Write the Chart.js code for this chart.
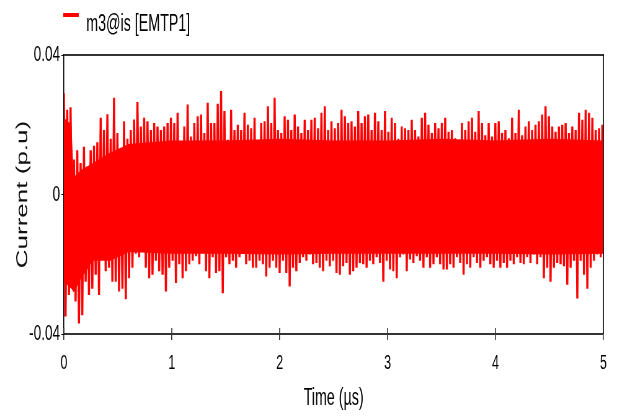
<!DOCTYPE html>
<html>
<head>
<meta charset="utf-8">
<title>m3@is current</title>
<script src="https://cdn.jsdelivr.net/npm/chart.js"></script>
<style>
  html, body { margin: 0; padding: 0; overflow: hidden; background: #fff; }
  .wrap { width: 617px; height: 416px; overflow: hidden; }
  /* the original plot is horizontally squeezed, so draw wide and squeeze */
  #chart { transform: scaleX(0.6201); transform-origin: 0 0; }
</style>
</head>
<body>
<div class="wrap"><canvas id="chart" width="995" height="416"></canvas></div>
<script>
// spacing between peak readings (µs)
const sampleStep = 0.031;

// positive peaks (p.u.)
const peakHi = [
  0.029, 0.0243, 0.025, 0.010, 0.0127, 0.009, 0.0137, 0.008, 0.0127, 0.014, 0.015, 0.022, 0.0185, 0.023, 0.016, 0.0277,
  0.0176, 0.011, 0.021, 0.016, 0.0185, 0.0215, 0.0265, 0.0195, 0.022, 0.021, 0.0185, 0.0205, 0.0195, 0.0185, 0.0195, 0.0205,
  0.022, 0.0205, 0.0234, 0.0152, 0.0195, 0.0258, 0.0166, 0.0205, 0.0224, 0.0229, 0.0176, 0.0263, 0.0205, 0.0205, 0.026, 0.0297,
  0.0239, 0.0157, 0.0243, 0.0185, 0.020, 0.0185, 0.0234, 0.020, 0.019, 0.022, 0.0147, 0.0205, 0.021, 0.0253, 0.0205, 0.0277,
  0.0185, 0.0176, 0.0224, 0.0214, 0.0185, 0.0229, 0.0195, 0.0176, 0.0214, 0.0185, 0.0214, 0.022, 0.019, 0.0234, 0.0253, 0.0185,
  0.021, 0.019, 0.0205, 0.0243, 0.0224, 0.0205, 0.021, 0.0195, 0.0239, 0.0205, 0.0224, 0.0229, 0.0185, 0.0234, 0.021, 0.0185,
  0.0239, 0.018, 0.022, 0.0205, 0.016, 0.0195, 0.019, 0.0185, 0.0214, 0.0185, 0.0166, 0.022, 0.0234, 0.020, 0.0176, 0.0205,
  0.019, 0.0205, 0.022, 0.018, 0.0185, 0.0161, 0.015, 0.0205, 0.0185, 0.021, 0.022, 0.018, 0.0239, 0.0205, 0.017, 0.0205,
  0.0166, 0.0205, 0.021, 0.0176, 0.0185, 0.0161, 0.022, 0.0176, 0.0243, 0.017, 0.0195, 0.021, 0.0185, 0.020, 0.021, 0.0229,
  0.0253, 0.0224, 0.0195, 0.018, 0.0195, 0.020, 0.0205, 0.0176, 0.0195, 0.0185, 0.0234, 0.0214, 0.0243, 0.0234, 0.022, 0.0185,
  0.019, 0.020
];

// negative peaks (p.u.)
const peakLo = [
  -0.035, -0.0288, -0.024, -0.0307, -0.037, -0.0346, -0.025, -0.0288, -0.027, -0.023, -0.0288, -0.018, -0.022, -0.021, -0.025, -0.025,
  -0.0278, -0.027, -0.030, -0.024, -0.021, -0.017, -0.018, -0.0153, -0.021, -0.024, -0.023, -0.019, -0.022, -0.023, -0.0278, -0.021,
  -0.019, -0.0254, -0.020, -0.024, -0.022, -0.020, -0.019, -0.0177, -0.020, -0.0153, -0.022, -0.024, -0.018, -0.0225, -0.022, -0.0283,
  -0.018, -0.020, -0.019, -0.021, -0.018, -0.0162, -0.020, -0.019, -0.021, -0.021, -0.019, -0.020, -0.0235, -0.021, -0.019, -0.021,
  -0.0225, -0.019, -0.0225, -0.0264, -0.021, -0.022, -0.0196, -0.018, -0.019, -0.0172, -0.020, -0.0196, -0.021, -0.022, -0.019, -0.0206,
  -0.019, -0.0225, -0.023, -0.0206, -0.0196, -0.023, -0.022, -0.021, -0.0196, -0.020, -0.021, -0.019, -0.020, -0.018, -0.0196, -0.025,
  -0.019, -0.0215, -0.022, -0.024, -0.018, -0.0172, -0.022, -0.0186, -0.0196, -0.0177, -0.019, -0.021, -0.018, -0.021, -0.020, -0.018,
  -0.020, -0.0215, -0.0215, -0.020, -0.021, -0.018, -0.0196, -0.023, -0.020, -0.021, -0.018, -0.0196, -0.021, -0.019, -0.018, -0.020,
  -0.021, -0.019, -0.021, -0.0196, -0.021, -0.019, -0.020, -0.018, -0.0196, -0.020, -0.018, -0.0196, -0.0172, -0.020, -0.018, -0.024,
  -0.021, -0.025, -0.021, -0.0196, -0.020, -0.0206, -0.0259, -0.021, -0.019, -0.0298, -0.019, -0.023, -0.027, -0.021, -0.019, -0.0172,
  -0.018, -0.019
];

// solid core of the band (µs / p.u.)
const bodyTime = [0, 0.07, 0.09, 0.16, 0.27, 0.43, 0.6, 1, 1.5, 2, 2.5, 3, 3.5, 4, 4.5, 5];
const bodyTop = [0.022, 0.020, 0.005, 0.007, 0.009, 0.012, 0.0145, 0.0155, 0.0155, 0.016, 0.0155, 0.0155, 0.016, 0.0155, 0.016, 0.0155];
const bodyBot = [-0.025, -0.027, -0.028, -0.024, -0.019, -0.019, -0.0165, -0.017, -0.017, -0.0172, -0.017, -0.017, -0.017, -0.017, -0.0172, -0.017];

const xTicks = [0, 1, 2, 3, 4, 5];
const yTicks = [-0.04, 0, 0.04];
const seriesName = 'm3@is [EMTP1]';

const FONT = "'Liberation Sans', Arial, sans-serif";
const RED = '#ff0000';

// each sample: positive peak then negative peak half a step later
const signal = [];
peakHi.forEach((v, i) => {
  signal.push({ x: i * sampleStep, y: v });
  signal.push({ x: i * sampleStep + sampleStep / 2, y: peakLo[i] });
});
const coreTop = bodyTime.map((t, i) => ({ x: t, y: bodyTop[i] }));
const coreBot = bodyTime.map((t, i) => ({ x: t, y: bodyBot[i] }));

// top/right frame, inner tick stubs and the legend
const framePlugin = {
  id: 'frame',
  afterDraw(chart) {
    const { ctx, chartArea: a, scales } = chart;
    ctx.save();
    ctx.strokeStyle = '#333';
    ctx.lineWidth = 2;
    ctx.beginPath();
    ctx.moveTo(a.left, a.top);
    ctx.lineTo(a.right + 1, a.top);
    ctx.stroke();
    ctx.strokeStyle = '#000';
    ctx.lineWidth = 1.6;
    ctx.beginPath();
    ctx.moveTo(a.right, a.top);
    ctx.lineTo(a.right, a.bottom);
    ctx.stroke();
    ctx.strokeStyle = '#333';
    xTicks.forEach(v => {
      const px = scales.x.getPixelForValue(v);
      ctx.beginPath();
      ctx.moveTo(px, a.bottom - 6);
      ctx.lineTo(px, a.bottom);
      ctx.stroke();
    });
    // legend
    ctx.fillStyle = RED;
    ctx.fillRect(102, 13, 25, 4);
    ctx.fillStyle = '#000';
    ctx.font = '23px ' + FONT;
    ctx.textBaseline = 'alphabetic';
    ctx.textAlign = 'left';
    ctx.fillText(chart.data.datasets[0].label, 139, 31);
    ctx.restore();
  }
};

new Chart(document.getElementById('chart'), {
  type: 'line',
  data: {
    datasets: [
      { label: seriesName, data: signal, borderColor: RED, borderWidth: 3.4, pointRadius: 0, tension: 0, fill: false },
      { label: 'core', data: coreTop, borderWidth: 0, borderColor: RED, backgroundColor: RED, pointRadius: 0, fill: '+1' },
      { label: 'core-low', data: coreBot, borderWidth: 0, borderColor: RED, pointRadius: 0, fill: false }
    ]
  },
  options: {
    responsive: false,
    animation: false,
    devicePixelRatio: 1,
    layout: { padding: { top: 55, right: 22, bottom: 0, left: 0 } },
    plugins: { legend: { display: false }, tooltip: { enabled: false } },
    scales: {
      x: {
        type: 'linear', min: 0, max: 5,
        afterBuildTicks: s => { s.ticks = xTicks.map(v => ({ value: v })); },
        afterFit: s => { s.height = 82; },
        border: { color: '#333', width: 2 },
        grid: { drawOnChartArea: false, tickLength: 6, color: '#333', lineWidth: 1.6 },
        ticks: { color: '#000', padding: 11, maxRotation: 0, font: { family: FONT, size: 20 } },
        title: { display: true, text: 'Time (µs)', color: '#000', font: { family: FONT, size: 23 }, padding: { top: 0, bottom: 4 } }
      },
      y: {
        min: -0.04, max: 0.04,
        afterBuildTicks: s => { s.ticks = yTicks.map(v => ({ value: v })); },
        afterFit: s => { s.width = 103; },
        border: { color: '#000', width: 1.6 },
        grid: { drawOnChartArea: false, tickLength: 4, color: '#000', lineWidth: 1 },
        ticks: { color: '#000', padding: 2, font: { family: FONT, size: 22 }, callback: v => String(v) },
        title: { display: true, text: 'Current (p.u)', color: '#111', font: { family: FONT, size: 26 }, padding: { top: 21, bottom: 0 } }
      }
    }
  },
  plugins: [framePlugin]
});
</script>
</body>
</html>
